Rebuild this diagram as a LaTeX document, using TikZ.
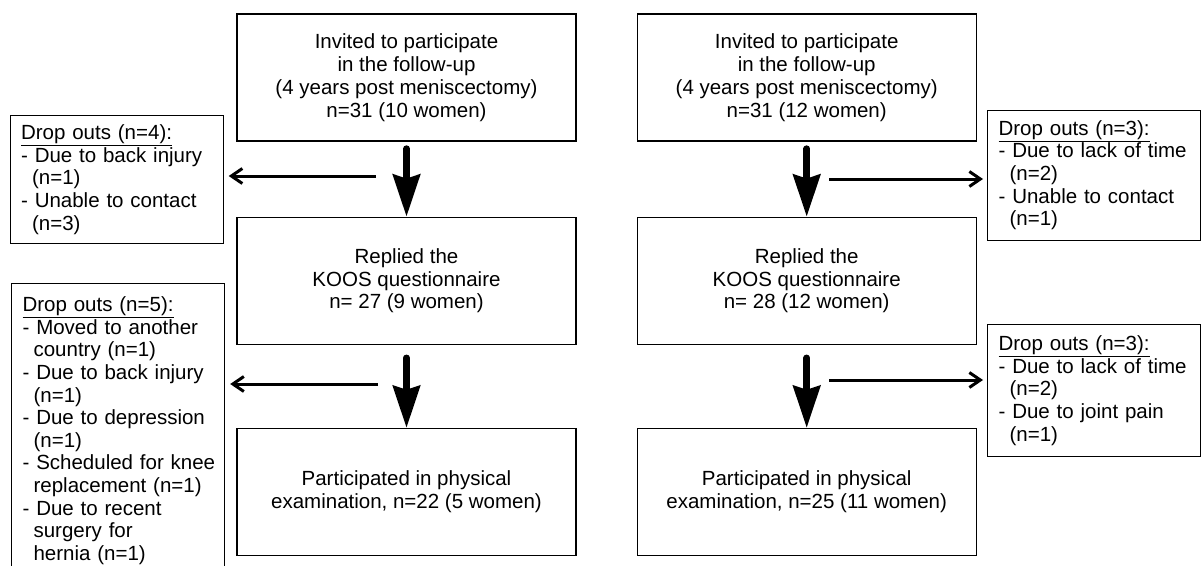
\documentclass[tikz,border=0pt]{standalone}
\usepackage{fontspec}
\setmainfont{Liberation Sans}
\usetikzlibrary{positioning,arrows.meta}

\begin{document}
\begin{tikzpicture}[x=1pt,y=-1pt,font=\fontsize{20.5}{22.8}\selectfont]
    \def\boxwidth{339pt}
    \def\boxheight{127pt}
    \def\dropwidth{191pt}
    \def\ind{\hspace*{11pt}}
    \tikzstyle{stage} = [draw, line width=1.2pt, minimum width=\boxwidth, minimum height=\boxheight, align=center, inner sep=0pt]
    \tikzstyle{dropout} = [draw, line width=1.2pt, anchor=north west, text width=\dropwidth, inner xsep=11pt, inner ysep=3pt, align=left, font=\fontsize{20.5}{22.6}\selectfont]
    \tikzstyle{flow} = [line width=6.5pt, line cap=round, -{Stealth[length=42pt,width=27pt,inset=4pt]}]
    \tikzstyle{split} = [line width=3pt, -{Straight Barb[length=11pt,width=15pt]}]
    \useasboundingbox (0,0) rectangle (1204,565);
    \clip (0,0) rectangle (1204,565);
    % left group
    \node[stage] (L1) at (406.5,77.5) {Invited to participate\\in the follow-up\\(4 years post meniscectomy)\\n=31 (10 women)};
    \node[stage, below=75pt of L1] (L2) {Replied the\\KOOS questionnaire\\n= 27 (9 women)};
    \node[stage, below=83pt of L2] (L3) {Participated in physical\\examination, n=22 (5 women)};
    % right group
    \node[stage, right=60pt of L1] (R1) {Invited to participate\\in the follow-up\\(4 years post meniscectomy)\\n=31 (12 women)};
    \node[stage, right=60pt of L2] (R2) {Replied the\\KOOS questionnaire\\n= 28 (12 women)};
    \node[stage, right=60pt of L3] (R3) {Participated in physical\\examination, n=25 (11 women)};
    % drop outs
    \node[dropout, minimum height=128pt] (DL1) at (9.5,115) {\underline{Drop outs (n=4):}\\- Due to back injury\\\ind(n=1)\\- Unable to contact\\\ind(n=3)};
    \node[dropout, minimum height=294pt] (DL2) at (11,283) {\underline{Drop outs (n=5):}\\- Moved to another\\\ind country (n=1)\\- Due to back injury\\\ind(n=1)\\- Due to depression\\\ind(n=1)\\\mbox{- Scheduled for knee}\\\ind replacement (n=1)\\- Due to recent\\\ind surgery for\\\ind hernia (n=1)};
    \node[dropout, minimum height=130pt] (DR1) at (987,109.5) {\underline{Drop outs (n=3):}\\- Due to lack of time\\\ind(n=2)\\- Unable to contact\\\ind(n=1)};
    \node[dropout, minimum height=132pt] (DR2) at (987,324) {\underline{Drop outs (n=3):}\\- Due to lack of time\\\ind(n=2)\\- Due to joint pain\\\ind(n=1)};
    % main flow
    \draw[flow] ([yshift=-7pt]L1.south) -- (L2.north);
    \draw[flow] ([yshift=-13pt]L2.south) -- (L3.north);
    \draw[flow] ([yshift=-7pt]R1.south) -- (R2.north);
    \draw[flow] ([yshift=-13pt]R2.south) -- (R3.north);
    % side exits
    \coordinate (sL1) at (376,176);
    \coordinate (sL2) at (378,384);
    \coordinate (sR1) at (829,179);
    \coordinate (sR2) at (829,380);
    \draw[split, shorten >=5pt] (sL1) -- (sL1 -| DL1.east);
    \draw[split, shorten >=5pt] (sL2) -- (sL2 -| DL2.east);
    \draw[split, shorten >=4pt] (sR1) -- (sR1 -| DR1.west);
    \draw[split, shorten >=4pt] (sR2) -- (sR2 -| DR2.west);
\end{tikzpicture}
\end{document}
